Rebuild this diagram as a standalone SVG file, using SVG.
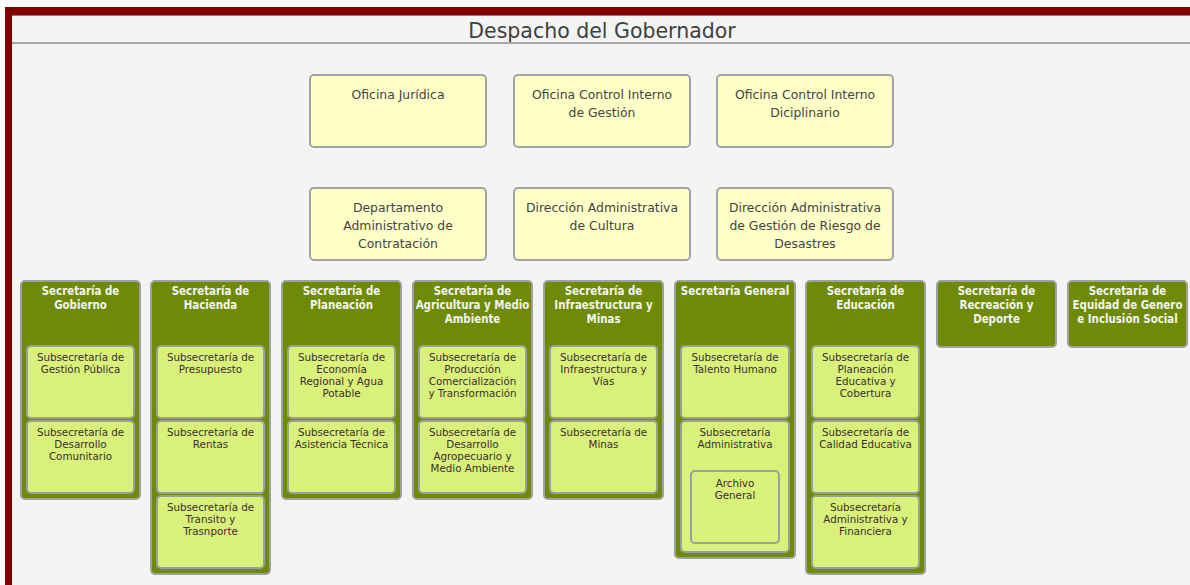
<svg xmlns="http://www.w3.org/2000/svg" width="1190" height="585" viewBox="0 0 1190 585">
<style>
.off{fill:#ffffc8;stroke:#a3a3a3;stroke-width:2}
.sec{fill:#6f8a09;stroke:#a0a0a0;stroke-width:2}
.sub{fill:#d9f07a;stroke:#9d9d9d;stroke-width:2}
.ot{font-family:"DejaVu Sans","Liberation Sans",sans-serif;font-size:12.4px;fill:#444;text-anchor:middle}
.st{font-family:"DejaVu Sans Condensed","DejaVu Sans",sans-serif;font-size:11.4px;font-weight:bold;fill:#f4f4f0;text-anchor:middle}
.bt{font-family:"DejaVu Sans","Liberation Sans",sans-serif;font-size:10.3px;fill:#3a2f2f;text-anchor:middle}
.title{font-family:"DejaVu Sans","Liberation Sans",sans-serif;font-size:20.5px;fill:#3f3f3f;text-anchor:middle}
</style>
<rect x="0" y="0" width="1190" height="585" fill="#ffffff"/>
<rect x="5" y="7" width="1185" height="578" fill="#800000"/>
<rect x="12" y="15" width="1178" height="570" fill="#f4f4f4"/>
<rect x="12" y="15" width="1178" height="1" fill="#b86a6a"/>
<rect x="12" y="42" width="1178" height="2" fill="#a8a8a8"/>
<g id="title"><text class="title" x="602" y="38">Despacho del Gobernador</text></g>

<g id="connectors"></g>

<g id="oficina-juridica"><rect class="off" x="310" y="75" width="176" height="72" rx="4"/><text class="ot" x="398" y="99">Oficina Jurídica</text></g>
<g id="oficina-control-gestion"><rect class="off" x="514" y="75" width="176" height="72" rx="4"/><text class="ot" x="602" y="99">Oficina Control Interno</text><text class="ot" x="602" y="117">de Gestión</text></g>
<g id="oficina-control-disciplinario"><rect class="off" x="717" y="75" width="176" height="72" rx="4"/><text class="ot" x="805" y="99">Oficina Control Interno</text><text class="ot" x="805" y="117">Diciplinario</text></g>
<g id="dep-contratacion"><rect class="off" x="310" y="188" width="176" height="72" rx="4"/><text class="ot" x="398" y="212">Departamento</text><text class="ot" x="398" y="230">Administrativo de</text><text class="ot" x="398" y="248">Contratación</text></g>
<g id="dir-cultura"><rect class="off" x="514" y="188" width="176" height="72" rx="4"/><text class="ot" x="602" y="212">Dirección Administrativa</text><text class="ot" x="602" y="230">de Cultura</text></g>
<g id="dir-riesgo"><rect class="off" x="717" y="188" width="176" height="72" rx="4"/><text class="ot" x="805" y="212">Dirección Administrativa</text><text class="ot" x="805" y="230">de Gestión de Riesgo de</text><text class="ot" x="805" y="248">Desastres</text></g>

<g id="sec-gobierno"><rect class="sec" x="21" y="281" width="119" height="218" rx="4"/><text class="st" x="80.5" y="295">Secretaría de</text><text class="st" x="80.5" y="309">Gobierno</text>
<g id="sub-gestion-publica"><rect class="sub" x="27" y="346" width="107" height="72" rx="4"/><text class="bt" x="80.5" y="361">Subsecretaría de</text><text class="bt" x="80.5" y="373">Gestión Pública</text></g>
<g id="sub-desarrollo-comunitario"><rect class="sub" x="27" y="421" width="107" height="72" rx="4"/><text class="bt" x="80.5" y="436">Subsecretaría de</text><text class="bt" x="80.5" y="448">Desarrollo</text><text class="bt" x="80.5" y="460">Comunitario</text></g></g>

<g id="sec-hacienda"><rect class="sec" x="151" y="281" width="119" height="293" rx="4"/><text class="st" x="210.5" y="295">Secretaría de</text><text class="st" x="210.5" y="309">Hacienda</text>
<g id="sub-presupuesto"><rect class="sub" x="157" y="346" width="107" height="72" rx="4"/><text class="bt" x="210.5" y="361">Subsecretaría de</text><text class="bt" x="210.5" y="373">Presupuesto</text></g>
<g id="sub-rentas"><rect class="sub" x="157" y="421" width="107" height="72" rx="4"/><text class="bt" x="210.5" y="436">Subsecretaría de</text><text class="bt" x="210.5" y="448">Rentas</text></g>
<g id="sub-transito"><rect class="sub" x="157" y="496" width="107" height="72" rx="4"/><text class="bt" x="210.5" y="511">Subsecretaría de</text><text class="bt" x="210.5" y="523">Transito y</text><text class="bt" x="210.5" y="535">Trasnporte</text></g></g>

<g id="sec-planeacion"><rect class="sec" x="282" y="281" width="119" height="218" rx="4"/><text class="st" x="341.5" y="295">Secretaría de</text><text class="st" x="341.5" y="309">Planeación</text>
<g id="sub-economia"><rect class="sub" x="288" y="346" width="107" height="72" rx="4"/><text class="bt" x="341.5" y="361">Subsecretaría de</text><text class="bt" x="341.5" y="373">Economía</text><text class="bt" x="341.5" y="385">Regional y Agua</text><text class="bt" x="341.5" y="397">Potable</text></g>
<g id="sub-asistencia"><rect class="sub" x="288" y="421" width="107" height="72" rx="4"/><text class="bt" x="341.5" y="436">Subsecretaría de</text><text class="bt" x="341.5" y="448">Asistencia Técnica</text></g></g>

<g id="sec-agricultura"><rect class="sec" x="413" y="281" width="119" height="218" rx="4"/><text class="st" x="472.5" y="295">Secretaría de</text><text class="st" x="472.5" y="309">Agricultura y Medio</text><text class="st" x="472.5" y="323">Ambiente</text>
<g id="sub-produccion"><rect class="sub" x="419" y="346" width="107" height="72" rx="4"/><text class="bt" x="472.5" y="361">Subsecretaría de</text><text class="bt" x="472.5" y="373">Producción</text><text class="bt" x="472.5" y="385">Comercialización</text><text class="bt" x="472.5" y="397">y Transformación</text></g>
<g id="sub-agropecuario"><rect class="sub" x="419" y="421" width="107" height="72" rx="4"/><text class="bt" x="472.5" y="436">Subsecretaría de</text><text class="bt" x="472.5" y="448">Desarrollo</text><text class="bt" x="472.5" y="460">Agropecuario y</text><text class="bt" x="472.5" y="472">Medio Ambiente</text></g></g>

<g id="sec-infraestructura"><rect class="sec" x="544" y="281" width="119" height="218" rx="4"/><text class="st" x="603.5" y="295">Secretaría de</text><text class="st" x="603.5" y="309">Infraestructura y</text><text class="st" x="603.5" y="323">Minas</text>
<g id="sub-vias"><rect class="sub" x="550" y="346" width="107" height="72" rx="4"/><text class="bt" x="603.5" y="361">Subsecretaría de</text><text class="bt" x="603.5" y="373">Infraestructura y</text><text class="bt" x="603.5" y="385">Vías</text></g>
<g id="sub-minas"><rect class="sub" x="550" y="421" width="107" height="72" rx="4"/><text class="bt" x="603.5" y="436">Subsecretaría de</text><text class="bt" x="603.5" y="448">Minas</text></g></g>

<g id="sec-general"><rect class="sec" x="675" y="281" width="120" height="277" rx="4"/><text class="st" x="735" y="295">Secretaría General</text>
<g id="sub-talento"><rect class="sub" x="681" y="346" width="108" height="72" rx="4"/><text class="bt" x="735" y="361">Subsecretaría de</text><text class="bt" x="735" y="373">Talento Humano</text></g>
<g id="sub-administrativa"><rect class="sub" x="681" y="421" width="108" height="131" rx="4"/><text class="bt" x="735" y="436">Subsecretaría</text><text class="bt" x="735" y="448">Administrativa</text>
<g id="archivo-general"><rect class="sub" x="691" y="471" width="88" height="72" rx="4"/><text class="bt" x="735" y="487">Archivo</text><text class="bt" x="735" y="499">General</text></g></g></g>

<g id="sec-educacion"><rect class="sec" x="806" y="281" width="119" height="293" rx="4"/><text class="st" x="865.5" y="295">Secretaría de</text><text class="st" x="865.5" y="309">Educación</text>
<g id="sub-planeacion-educativa"><rect class="sub" x="812" y="346" width="107" height="72" rx="4"/><text class="bt" x="865.5" y="361">Subsecretaría de</text><text class="bt" x="865.5" y="373">Planeación</text><text class="bt" x="865.5" y="385">Educativa y</text><text class="bt" x="865.5" y="397">Cobertura</text></g>
<g id="sub-calidad"><rect class="sub" x="812" y="421" width="107" height="72" rx="4"/><text class="bt" x="865.5" y="436">Subsecretaría de</text><text class="bt" x="865.5" y="448">Calidad Educativa</text></g>
<g id="sub-admin-financiera"><rect class="sub" x="812" y="496" width="107" height="72" rx="4"/><text class="bt" x="865.5" y="511">Subsecretaría</text><text class="bt" x="865.5" y="523">Administrativa y</text><text class="bt" x="865.5" y="535">Financiera</text></g></g>

<g id="sec-recreacion"><rect class="sec" x="937" y="281" width="119" height="66" rx="4"/><text class="st" x="996.5" y="295">Secretaría de</text><text class="st" x="996.5" y="309">Recreación y</text><text class="st" x="996.5" y="323">Deporte</text></g>
<g id="sec-equidad"><rect class="sec" x="1068" y="281" width="119" height="66" rx="4"/><text class="st" x="1127.5" y="295">Secretaría de</text><text class="st" x="1127.5" y="309">Equidad de Genero</text><text class="st" x="1127.5" y="323">e Inclusión Social</text></g>
</svg>
